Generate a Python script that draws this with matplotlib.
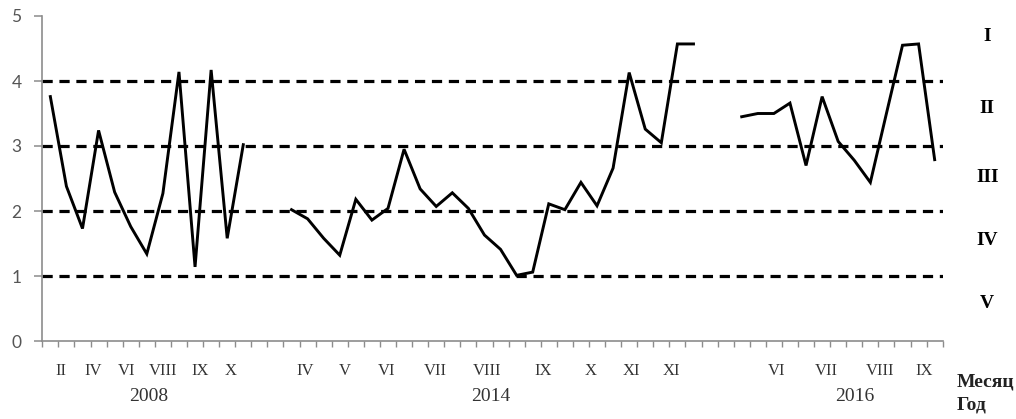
import numpy as np
import matplotlib
matplotlib.use("Agg")
import matplotlib.pyplot as plt
from matplotlib.transforms import blended_transform_factory

# Monthly index values for three observation years (one point per category slot)
values_2008 = [3.76, 2.38, 1.73, 3.24, 2.29, 1.76, 1.34, 2.27, 4.14, 1.14, 4.17, 1.58, 3.02]
values_2014 = [2.02, 1.88, 1.58, 1.32, 2.18, 1.86, 2.04, 2.95, 2.34, 2.07, 2.28, 2.04,
               1.63, 1.41, 1.01, 1.06, 2.11, 2.02, 2.44, 2.08, 2.66, 4.13, 3.26, 3.05,
               4.57, 4.57]
values_2016 = [3.45, 3.50, 3.50, 3.66, 2.70, 3.76, 3.07, 2.78, 2.44, 3.50, 4.55, 4.57, 2.79]
start_2008, start_2014, start_2016 = 0, 15, 43
n_categories = 56

# Class boundaries and class names
class_bounds = [1, 2, 3, 4]
class_names = ["I", "II", "III", "IV", "V"]
class_label_y = [4.69, 3.57, 2.52, 1.55, 0.58]

# Month and year captions under the category axis
months_2008 = ["II", "IV", "VI", "VIII", "IX", "X"]
months_2014 = ["IV", "V", "VI", "VII", "VIII", "IX", "X", "XI", "XI"]
months_2016 = ["VI", "VII", "VIII", "IX"]
years = ["2008", "2014", "2016"]

month_pos_2008 = [0.67, 2.68, 4.72, 7.01, 9.29, 11.2]
month_pos_2014 = [15.82, 18.31, 20.93, 23.92, 27.17, 30.63, 33.60, 36.14, 38.63]
month_pos_2016 = [45.18, 48.29, 51.62, 54.33]
year_pos = [6.11, 27.37, 50.06]

fig = plt.figure(figsize=(10.16, 4.19), dpi=100)
ax = fig.add_axes([42.3 / 1016, 1 - 341 / 419, (942.7 - 42.3) / 1016, (341 - 16) / 419])

axis_color = "#8c8c8c"
serif = ["Liberation Serif", "DejaVu Serif"]

# Dashed class boundaries
for b in class_bounds:
    ax.axhline(b, color="black", lw=2.3, dashes=(3.2, 2.1), zorder=2)

# Series
for start, vals in [(start_2008, values_2008), (start_2014, values_2014), (start_2016, values_2016)]:
    x = np.arange(start, start + len(vals))
    ax.plot(x, vals, color="black", lw=2.1, solid_joinstyle="miter", zorder=3)

ax.set_xlim(-0.5, n_categories - 0.5)
ax.set_ylim(0, 5)

# Axes styling
for side in ["top", "right"]:
    ax.spines[side].set_visible(False)
for side in ["left", "bottom"]:
    ax.spines[side].set_color(axis_color)
    ax.spines[side].set_linewidth(1.2)

ax.set_yticks(range(0, 6))
ax.tick_params(axis="y", direction="out", length=6, width=1.1, color=axis_color,
               labelsize=12.5, labelcolor="#555555", pad=9)
for lbl in ax.get_yticklabels():
    lbl.set_family(["Lato", "DejaVu Sans"])

ax.set_xticks(np.arange(-0.5, n_categories, 1.0))
ax.set_xticklabels([])
ax.tick_params(axis="x", direction="out", length=4, width=1.0, color=axis_color)

# Month and year captions
trans = blended_transform_factory(ax.transData, fig.transFigure)
for names, pos in [(months_2008, month_pos_2008), (months_2014, month_pos_2014),
                   (months_2016, month_pos_2016)]:
    for name, p in zip(names, pos):
        fig.text(p, 1 - 371 / 419, name, transform=trans, ha="center", va="center",
                 family=serif, fontsize=12, color="#333333")
for name, p in zip(years, year_pos):
    fig.text(p, 1 - 396 / 419, name, transform=trans, ha="center", va="center",
             family=serif, fontsize=14, color="#333333")

# Class names to the right of the plot
for name, yv in zip(class_names, class_label_y):
    ax.text(58.27, yv, name, ha="center", va="center", family=serif,
            fontsize=14, fontweight="bold", clip_on=False)

fig.text(957 / 1016, 1 - 382 / 419, "Месяц", ha="left", va="center", family=serif,
         fontsize=14, fontweight="bold", color="#222222")
fig.text(957 / 1016, 1 - 405 / 419, "Год", ha="left", va="center", family=serif,
         fontsize=14, fontweight="bold", color="#222222")

fig.savefig("out.png", dpi=100)
